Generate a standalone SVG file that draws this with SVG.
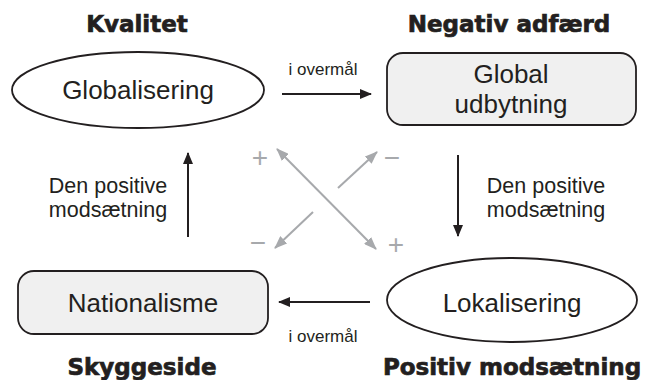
<svg xmlns="http://www.w3.org/2000/svg" width="658" height="380" viewBox="0 0 658 380">
<defs>
<marker id="ah" viewBox="0 0 12 10" refX="11" refY="5" markerWidth="12" markerHeight="10" markerUnits="userSpaceOnUse" orient="auto">
<path d="M0,0 L12,5 L0,10 z" fill="#231f20"/>
</marker>
<marker id="gh" viewBox="0 0 13 10" refX="12" refY="5" markerWidth="13" markerHeight="10" markerUnits="userSpaceOnUse" orient="auto-start-reverse">
<path d="M0,0 L13,5 L0,10 z" fill="#a7a9ac"/>
</marker>
<style>
.title{font-family:"DejaVu Sans",sans-serif;font-weight:bold;font-size:23px;fill:#231f20;stroke:#231f20;stroke-width:0.7;text-anchor:middle}
.node{font-family:"Liberation Sans",Arial,sans-serif;font-size:26px;fill:#231f20;text-anchor:middle}
.lbl{font-family:"Liberation Sans",Arial,sans-serif;font-size:21.5px;fill:#231f20;text-anchor:middle}
.sm{font-family:"Liberation Sans",Arial,sans-serif;font-size:17px;fill:#231f20;text-anchor:middle}
.sign{font-family:"Liberation Sans",Arial,sans-serif;font-size:28px;fill:#a7a9ac;text-anchor:middle}
.ell{fill:#ffffff;stroke:#231f20;stroke-width:1.8}
.box{fill:#f0f0f0;stroke:#231f20;stroke-width:1.8}
.blk{stroke:#231f20;stroke-width:2;fill:none;marker-end:url(#ah)}
.gry{stroke:#a7a9ac;stroke-width:2;fill:none;marker-end:url(#gh)}
</style>
</defs>
<rect width="658" height="380" fill="#ffffff"/>
<text class="title" x="137" y="32">Kvalitet</text>
<text class="title" x="509" y="32">Negativ adfærd</text>
<text class="title" x="142" y="375">Skyggeside</text>
<text class="title" x="512" y="375">Positiv modsætning</text>
<g id="globalisering">
<ellipse class="ell" cx="138" cy="90" rx="126" ry="38"/>
<text class="node" x="138" y="99">Globalisering</text>
</g>
<g id="global-udbytning">
<rect class="box" x="387" y="53" width="249" height="72" rx="16"/>
<text class="node" x="511" y="83">Global</text>
<text class="node" x="511" y="113">udbytning</text>
</g>
<g id="nationalisme">
<rect class="box" x="18" y="271" width="250" height="63" rx="16"/>
<text class="node" x="143" y="312">Nationalisme</text>
</g>
<g id="lokalisering">
<ellipse class="ell" cx="512" cy="300" rx="125" ry="42"/>
<text class="node" x="512" y="312">Lokalisering</text>
</g>
<g id="connectors">
<line class="blk" x1="282" y1="94" x2="371" y2="94"/>
<text class="sm" x="323" y="75">i overmål</text>
<line class="blk" x1="458" y1="155" x2="458" y2="236"/>
<text class="lbl" x="546" y="193">Den positive</text>
<text class="lbl" x="546" y="217">modsætning</text>
<line class="blk" x1="370" y1="302" x2="279" y2="302"/>
<text class="sm" x="323" y="342">i overmål</text>
<line class="blk" x1="188" y1="237" x2="188" y2="153"/>
<text class="lbl" x="108" y="193">Den positive</text>
<text class="lbl" x="108" y="217">modsætning</text>
<line class="gry" style="marker-start:url(#gh)" x1="277" y1="149" x2="376" y2="249"/>
<line class="gry" x1="338" y1="188" x2="377" y2="152"/>
<line class="gry" x1="313" y1="212" x2="275" y2="248"/>
<text class="sign" x="260" y="167">+</text>
<text class="sign" x="392" y="167">−</text>
<text class="sign" x="258" y="252">−</text>
<text class="sign" x="396" y="254">+</text>
</g>
</svg>
